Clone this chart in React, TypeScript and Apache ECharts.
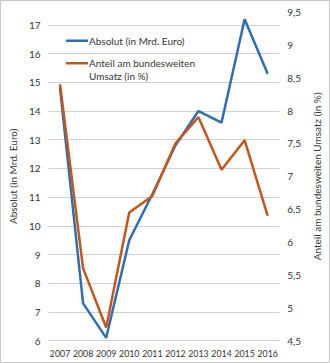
import React, { useEffect, useRef } from "react";
import * as echarts from "echarts";

const years = ["2007", "2008", "2009", "2010", "2011", "2012", "2013", "2014", "2015", "2016"];
const absolut = [14.8, 7.3, 6.1, 9.5, 11.1, 12.8, 14.0, 13.6, 17.2, 15.3];
const anteil = [8.4, 5.6, 4.7, 6.45, 6.7, 7.5, 7.9, 7.1, 7.55, 6.4];
const seriesNames = ["Absolut (in Mrd. Euro)", "Anteil am bundesweiten\nUmsatz (in %)"];
const leftAxisName = "Absolut (in Mrd. Euro)";
const rightAxisName = "Anteil am bundesweiten Umsatz (in %)";

const BLUE = "#2e6db4";
const ORANGE = "#c5561a";
const FONT = "Lato, 'Open Sans', sans-serif";
const TEXT = "#333333";

export default function App() {
  const ref = useRef<HTMLDivElement>(null);
  useEffect(() => {
    if (!ref.current) return;
    const chart = echarts.init(ref.current, null, { renderer: "svg" });
    chart.setOption({
      animation: false,
      backgroundColor: "#ffffff",
      textStyle: { fontFamily: FONT },
      grid: { left: 42, right: 40, top: 12, bottom: 22.3, containLabel: false },
      xAxis: {
        type: "category",
        data: years,
        boundaryGap: true,
        axisLine: { show: true, lineStyle: { color: "#d0d0d0" } },
        axisTick: { show: false },
        axisLabel: { color: TEXT, fontSize: 8.8, fontFamily: FONT, margin: 8, interval: 0 },
      },
      yAxis: [
        {
          type: "value",
          min: 6,
          max: 17.45,
          interval: 1,
          name: leftAxisName,
          nameLocation: "middle",
          nameGap: 24,
          nameTextStyle: { color: TEXT, fontSize: 10, fontFamily: FONT },
          axisLine: { show: false },
          axisTick: { show: false },
          axisLabel: {
            color: TEXT,
            fontSize: 10,
            fontFamily: FONT,
            margin: 8,
            showMaxLabel: false,
            formatter: (v: number) => (Number.isInteger(v) ? String(v) : ""),
          },
          splitLine: { show: true, showMaxLine: false, lineStyle: { color: "#d0d0d0", width: 1 } },
        },
        {
          type: "value",
          min: 4.5,
          max: 9.5,
          interval: 0.5,
          position: "right",
          name: rightAxisName,
          nameLocation: "middle",
          nameGap: 22,
          nameRotate: 90,
          nameTextStyle: { color: TEXT, fontSize: 10, fontFamily: FONT },
          axisLine: { show: false },
          axisTick: { show: false },
          axisLabel: {
            color: TEXT,
            fontSize: 10,
            fontFamily: FONT,
            margin: 8,
            formatter: (v: number) => String(v).replace(".", ","),
          },
          splitLine: { show: false },
        },
      ],
      series: [
        {
          name: seriesNames[0],
          type: "line",
          yAxisIndex: 0,
          data: absolut,
          symbol: "none",
          lineStyle: { color: BLUE, width: 2.5 },
          itemStyle: { color: BLUE },
        },
        {
          name: seriesNames[1],
          type: "line",
          yAxisIndex: 1,
          data: anteil,
          symbol: "none",
          lineStyle: { color: ORANGE, width: 2.5 },
          itemStyle: { color: ORANGE },
        },
      ],
      graphic: [
        {
          type: "rect",
          shape: { x: 0.5, y: 0.5, width: 329, height: 362 },
          style: { fill: "none", stroke: "#c8c8c8", lineWidth: 1 },
          silent: true,
        },
        {
          type: "rect",
          shape: { x: 66, y: 39.5, width: 22, height: 2.5 },
          style: { fill: BLUE },
        },
        {
          type: "text",
          x: 89,
          y: 41,
          style: { text: seriesNames[0], fill: TEXT, font: `10px ${FONT}`, verticalAlign: "middle" },
        },
        {
          type: "rect",
          shape: { x: 66, y: 62, width: 22, height: 2.5 },
          style: { fill: ORANGE },
        },
        {
          type: "text",
          x: 89,
          y: 57,
          style: { text: seriesNames[1], fill: TEXT, font: `10px ${FONT}`, lineHeight: 12.5, verticalAlign: "top" },
        },
      ],
    });
    return () => chart.dispose();
  }, []);
  return (
    <div
      ref={ref}
      style={{ position: "absolute", left: 0, top: 0, width: 330, height: 363 }}
    />
  );
}
